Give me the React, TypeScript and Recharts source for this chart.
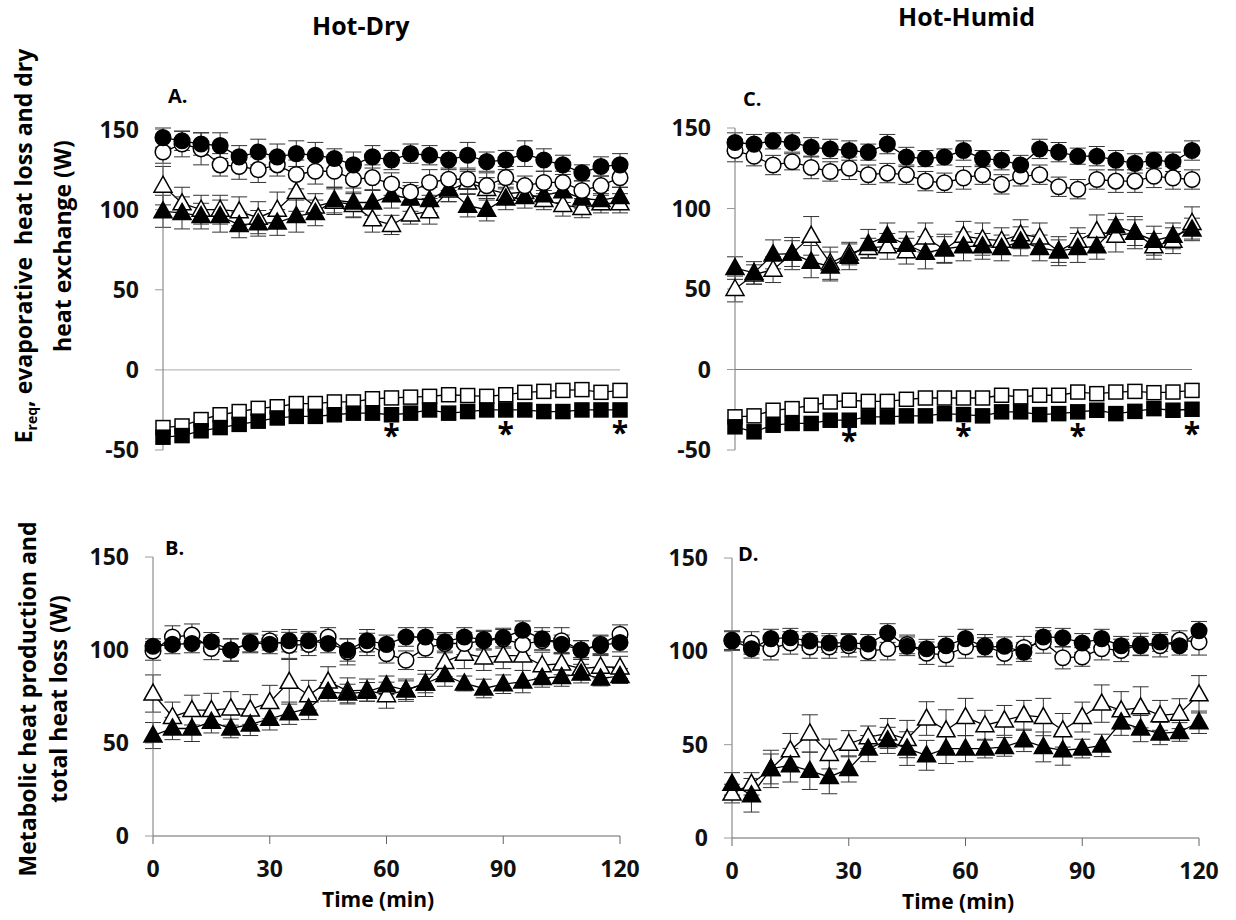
import React from 'react'
import { ComposedChart, Line, XAxis, YAxis, ErrorBar, ReferenceLine, Scatter } from 'recharts'

// time points, minutes
const times = [0, 5, 10, 15, 20, 25, 30, 35, 40, 45, 50, 55, 60, 65, 70, 75, 80, 85, 90, 95, 100, 105, 110, 115, 120]
const xTicks = [0, 30, 60, 90, 120]
const topTicks = [-50, 0, 50, 100, 150]
const bottomTicks = [0, 50, 100, 150]

// A. Hot-Dry, upper
const aFilledCircle = [145, 143, 141, 140, 133, 136, 133, 135, 134, 132, 128, 133, 131, 135, 134, 131, 134, 130, 131, 135, 131, 128, 123, 127, 128]
const aFilledCircleErr = [6, 6, 7, 8, 7, 8, 8, 8, 8, 6, 8, 7, 6, 6, 6, 6, 8, 6, 6, 8, 7, 6, 5, 6, 7]
const aOpenCircle = [136, 141, 138, 128, 127, 125, 128, 122, 124, 124, 119, 120, 116, 111, 117, 119, 119, 115, 120, 115, 117, 117, 112, 115, 120]
const aOpenCircleErr = [7, 8, 10, 7, 8, 8, 7, 9, 8, 10, 9, 8, 7, 6, 8, 7, 6, 8, 7, 6, 7, 7, 6, 6, 6]
const aOpenTri = [115, 104, 100, 100, 99, 95, 100, 111, 102, 105, 103, 94, 90.5, 97, 99, 112, 117, 113, 110, 111, 106, 103, 101, 104, 104]
const aOpenTriErr = [12, 10, 9, 9, 9, 10, 11, 12, 8, 8, 8, 8, 6, 6, 8, 7, 7, 7, 6, 6, 6, 7, 6, 6, 6]
const aFilledTri = [99, 98, 96, 96, 90.5, 91.5, 92, 96, 98, 106, 104.5, 104.5, 109, 107, 106, 113, 102.5, 100, 107, 108, 109, 111.5, 107, 106, 108]
const aFilledTriErr = [10, 10, 8, 10, 8, 8, 8, 10, 8, 8, 9, 8, 8, 8, 8, 8, 7, 7, 7, 7, 7, 7, 6, 6, 6]
const aOpenSq = [-36, -35, -31, -28, -26, -24, -23, -21, -21, -20, -20, -18, -17.5, -17, -16.5, -15.5, -16, -16.5, -15.5, -14, -13.4, -12.8, -12.3, -14, -12.8]
const aFilledSq = [-42, -41, -38, -36, -34, -32, -30, -29, -29, -28, -27, -27, -28, -27, -25, -27, -26, -25, -25, -25, -26, -26, -25, -25, -25]
const aStarT = [60, 90, 120]
const aStarY = [-38, -37, -36]

// B. Hot-Dry, lower
const bFilledCircle = [102, 103, 103.5, 104.4, 100, 104, 103, 105, 105, 103.5, 100, 105, 103, 107, 107, 104.4, 107, 105.6, 106.7, 110.6, 106, 103, 100, 102.5, 104]
const bFilledCircleErr = [4, 5, 5, 5, 6, 5, 5, 6, 5, 5, 6, 6, 5, 5, 5, 5, 5, 5, 5, 5, 6, 5, 5, 5, 5]
const bOpenCircle = [99.5, 107, 108, 100.8, 100, 103.5, 105, 102.5, 103, 107, 99, 103, 98, 94.5, 101, 103.5, 103.5, 105, 106, 103, 105, 105, 100, 103, 108.5]
const bOpenCircleErr = [5, 6, 6, 6, 6, 5, 5, 7, 6, 5, 7, 6, 5, 5, 5, 5, 6, 5, 5, 6, 5, 7, 5, 5, 5]
const bOpenTri = [76.6, 64, 67.7, 67.7, 68.6, 68, 72, 82.9, 75.7, 83, 78, 78.4, 75.7, 78.4, 82, 93.6, 98, 96, 97, 97, 91.8, 92.7, 90, 91, 90.6]
const bOpenTriErr = [10, 8, 8, 9, 9, 8, 9, 12, 8, 8, 7, 6, 7, 6, 7, 8, 8, 7, 7, 8, 7, 6, 6, 6, 6]
const bFilledTri = [54, 57.8, 57.8, 61.4, 57.8, 60, 63, 66, 68.6, 77.5, 76.6, 77.5, 81, 78.4, 82, 86.5, 82, 79.3, 81.6, 83, 85, 85.5, 87.3, 84.7, 86]
const bFilledTriErr = [7, 6, 7, 6, 5, 6, 6, 6, 6, 5, 5, 5, 5, 5, 5, 6, 4, 5, 5, 6, 5, 5, 5, 4, 4]

// C. Hot-Humid, upper
const cFilledCircle = [141, 140, 142, 141, 138, 137, 136, 135, 140, 132, 131, 132, 136, 131, 130, 127, 137, 135, 132.5, 132.5, 130, 128, 130, 129, 136]
const cFilledCircleErr = [6, 6, 5, 6, 6, 6, 6, 5, 6, 6, 5, 5, 6, 5, 6, 6, 6, 6, 5, 6, 6, 6, 5, 6, 6]
const cOpenCircle = [136, 132.5, 127, 129, 125.5, 123, 125, 121, 122, 121, 117, 116, 119, 121, 115, 120, 121, 113.5, 112, 118, 117, 117, 120, 119, 118]
const cOpenCircleErr = [7, 6, 6, 5, 7, 6, 7, 6, 6, 6, 6, 6, 7, 6, 6, 6, 6, 6, 6, 6, 7, 7, 7, 7, 6]
const cOpenTri = [50, 59, 62, 72, 83, 66, 72, 75.5, 76.5, 73.5, 82, 74.5, 83, 81, 80, 84, 82, 73.5, 80, 86, 83, 85, 76.5, 80, 91]
const cOpenTriErr = [8, 6, 8, 8, 12, 10, 7, 6, 8, 8, 9, 8, 9, 10, 8, 9, 9, 7, 8, 10, 10, 10, 8, 8, 10]
const cFilledTri = [63, 60, 71.5, 72, 67, 64, 70, 78, 83, 77.5, 72.5, 75, 76.5, 76.5, 75.5, 79.6, 75.5, 73.5, 75.5, 76.5, 89, 85, 80, 83, 87]
const cFilledTriErr = [7, 7, 9, 10, 10, 9, 8, 9, 8, 8, 10, 9, 9, 8, 8, 9, 8, 9, 9, 8, 8, 8, 9, 8, 7]
const cOpenSq = [-29.4, -28.8, -25.3, -24.3, -22.2, -20.2, -19.1, -19.8, -19.8, -18.5, -17.7, -17.7, -17.7, -17.7, -16, -17, -16, -16, -14, -15, -14, -13.6, -14.4, -14, -13]
const cFilledSq = [-35.6, -38.7, -34.6, -33.5, -33.5, -31.5, -31.5, -29.4, -29.4, -28.8, -28.8, -27.4, -28, -28.8, -26.3, -26.3, -28, -27.4, -26.3, -25.3, -27.4, -26, -24.3, -25.3, -24.7]
const cStarT = [30, 60, 90, 120]
const cStarY = [-41.5, -38, -38, -37]

// D. Hot-Humid, lower
const dFilledCircle = [106, 101.4, 106.8, 107.3, 105.5, 104.5, 104.5, 104, 109.8, 102.7, 101.4, 103, 106.8, 102.3, 102.7, 99.6, 107.7, 107.3, 104.5, 106.8, 103, 103, 105, 103, 111]
const dFilledCircleErr = [5, 5, 5, 5, 5, 5, 5, 5, 5, 5, 5, 5, 5, 5, 5, 5, 5, 5, 5, 5, 5, 5, 5, 5, 5]
const dOpenCircle = [105.5, 104.5, 101.4, 104.5, 102.3, 102.3, 103, 100, 101.4, 103.7, 99, 98, 102.3, 103, 98.8, 102, 105, 96.6, 97, 101.4, 100.5, 103.7, 103, 106, 105]
const dOpenCircleErr = [5, 6, 6, 6, 6, 6, 6, 5, 6, 5, 6, 6, 6, 6, 6, 6, 6, 6, 5, 6, 6, 6, 6, 5, 7]
const dOpenTri = [23.8, 29, 37, 47, 56, 45, 50.5, 54, 56, 53, 64, 57.7, 64.8, 60.4, 63, 65.7, 64.8, 57.7, 64.8, 72, 68.4, 70, 65.7, 66.6, 77]
const dOpenTriErr = [5, 6, 8, 9, 10, 8, 7, 6, 8, 10, 9, 11, 10, 8, 8, 8, 10, 9, 8, 10, 10, 11, 8, 8, 10]
const dFilledTri = [29, 22.9, 37, 39, 36, 32.7, 37, 47.9, 52.3, 47.9, 44.3, 47.9, 47.9, 47.9, 48.8, 52.3, 48.8, 47, 47.9, 49.6, 62, 58.6, 56, 56.8, 62]
const dFilledTriErr = [6, 9, 10, 9, 10, 9, 7, 7, 7, 9, 8, 8, 7, 5, 5, 6, 8, 8, 5, 6, 7, 7, 6, 5, 6]

const FONT = '"Open Sans", "Noto Sans", sans-serif'

type Kind = 'circle' | 'tri' | 'square'

function Marker({ cx, cy, kind, filled }: { cx: number; cy: number; kind: Kind; filled: boolean }) {
  if (cx == null || cy == null) return null
  const fill = filled ? '#000' : '#fff'
  if (kind === 'circle') return <circle cx={cx} cy={cy} r={7.8} fill={fill} stroke="#000" strokeWidth={1.5} />
  if (kind === 'square') return <rect x={cx - 7} y={cy - 7} width={14} height={14} fill={fill} stroke="#000" strokeWidth={1.5} />
  return (
    <polygon
      points={`${cx},${cy - 9.5} ${cx + 9},${cy + 6.5} ${cx - 9},${cy + 6.5}`}
      fill={fill}
      stroke="#000"
      strokeWidth={1.5}
    />
  )
}

type Series = { key: string; vals: number[]; err?: number[]; kind: Kind; filled: boolean }

function Panel({
  left, top, w, h, domain, ticks, showX, series, starT, starY, zeroStroke,
}: {
  left: number; top: number; w: number; h: number; domain: [number, number]; ticks: number[]
  showX: boolean; series: Series[]; starT?: number[]; starY?: number[]; zeroStroke?: string
}) {
  const YW = 84
  const MT = 20
  const XH = 50
  const rows = times.map((t, i) => {
    const r: any = { t }
    series.forEach(s => {
      r[s.key] = s.vals[i]
      if (s.err) r[s.key + 'E'] = s.err[i]
    })
    return r
  })
  const stars = (starT || []).map((t, i) => ({ t, y: starY ? starY[i] : 0 }))
  const tickStyle = { fill: '#111', fontSize: 23, fontWeight: 700, fontFamily: FONT }
  return (
    <div style={{ position: 'absolute', left: left - YW, top: top - MT }}>
      <ComposedChart
        width={YW + w + 30}
        height={MT + h + (showX ? XH : 16)}
        data={rows}
        margin={{ top: MT, right: 30, left: 0, bottom: showX ? 0 : 16 }}
      >
        <XAxis
          type="number"
          dataKey="t"
          domain={[0, 120]}
          ticks={xTicks}
          hide={!showX}
          height={XH}
          tickSize={8}
          tickMargin={17}
          axisLine={{ stroke: '#666' }}
          tickLine={{ stroke: '#666' }}
          tick={tickStyle}
        />
        <YAxis
          type="number"
          domain={domain}
          ticks={ticks}
          width={YW}
          tickSize={8}
          tickMargin={16}
          axisLine={{ stroke: '#777' }}
          tickLine={{ stroke: '#999' }}
          tick={tickStyle}
        />
        {zeroStroke && <ReferenceLine y={0} stroke={zeroStroke} strokeWidth={1.2} />}
        {series.map(s => (
          <Line
            key={s.key}
            dataKey={s.key}
            type="linear"
            stroke="#000"
            strokeWidth={1.3}
            isAnimationActive={false}
            dot={(p: any) => <Marker key={s.key + p.index} cx={p.cx} cy={p.cy} kind={s.kind} filled={s.filled} />}
            activeDot={false}
          >
            {s.err && (
              <ErrorBar dataKey={s.key + 'E'} width={8} stroke="#333" strokeWidth={1} direction="y" isAnimationActive={false} />
            )}
          </Line>
        ))}
        {stars.length > 0 && (
          <Scatter
            data={stars}
            dataKey="y"
            isAnimationActive={false}
            shape={(p: any) => (
              <text x={p.cx} y={p.cy + 15} textAnchor="middle" fontSize={30} fontWeight={700} fontFamily={FONT} fill="#000">*</text>
            )}
          />
        )}
      </ComposedChart>
    </div>
  )
}

const label: React.CSSProperties = { position: 'absolute', fontFamily: FONT, fontWeight: 700, color: '#000', whiteSpace: 'nowrap', lineHeight: 1 }

function RotTitle({ cx, cy, lines }: { cx: number; cy: number; lines: React.ReactNode[] }) {
  return (
    <div
      style={{
        ...label,
        left: cx,
        top: cy,
        fontSize: 23,
        lineHeight: '31px',
        textAlign: 'center',
        transform: 'translate(-50%, -50%) rotate(-90deg)',
      }}
    >
      {lines.map((l, i) => <div key={i}>{l}</div>)}
    </div>
  )
}

export default function App() {
  return (
    <div style={{ position: 'absolute', left: 0, top: 0, width: 1236, height: 920, background: '#fff', overflow: 'hidden' }}>
      <div style={{ ...label, left: 312, top: 13, fontSize: 25 }}>Hot-Dry</div>
      <div style={{ ...label, left: 898, top: 4, fontSize: 25 }}>Hot-Humid</div>

      <RotTitle
        cx={43}
        cy={246}
        lines={[
          <span key="a">E<span style={{ fontSize: 14, verticalAlign: -5 }}>req</span>, evaporative&nbsp; heat loss and dry</span>,
          'heat exchange (W)',
        ]}
      />
      <RotTitle cx={43} cy={699} lines={['Metabolic heat production and', 'total heat loss (W)']} />

      <Panel
        left={163} top={128} w={457} h={322} domain={[-50, 150]} ticks={topTicks} showX={false} zeroStroke="#bbb"
        starT={aStarT} starY={aStarY}
        series={[
          { key: 'os', vals: aOpenSq, kind: 'square', filled: false },
          { key: 'fs', vals: aFilledSq, kind: 'square', filled: true },
          { key: 'ot', vals: aOpenTri, err: aOpenTriErr, kind: 'tri', filled: false },
          { key: 'ft', vals: aFilledTri, err: aFilledTriErr, kind: 'tri', filled: true },
          { key: 'oc', vals: aOpenCircle, err: aOpenCircleErr, kind: 'circle', filled: false },
          { key: 'fc', vals: aFilledCircle, err: aFilledCircleErr, kind: 'circle', filled: true },
        ]}
      />
      <Panel
        left={735} top={128} w={457} h={322} domain={[-50, 150]} ticks={topTicks} showX={false} zeroStroke="#777"
        starT={cStarT} starY={cStarY}
        series={[
          { key: 'os', vals: cOpenSq, kind: 'square', filled: false },
          { key: 'fs', vals: cFilledSq, kind: 'square', filled: true },
          { key: 'ot', vals: cOpenTri, err: cOpenTriErr, kind: 'tri', filled: false },
          { key: 'ft', vals: cFilledTri, err: cFilledTriErr, kind: 'tri', filled: true },
          { key: 'oc', vals: cOpenCircle, err: cOpenCircleErr, kind: 'circle', filled: false },
          { key: 'fc', vals: cFilledCircle, err: cFilledCircleErr, kind: 'circle', filled: true },
        ]}
      />
      <Panel
        left={153} top={557} w={467} h={279} domain={[0, 150]} ticks={bottomTicks} showX={true}
        series={[
          { key: 'ot', vals: bOpenTri, err: bOpenTriErr, kind: 'tri', filled: false },
          { key: 'ft', vals: bFilledTri, err: bFilledTriErr, kind: 'tri', filled: true },
          { key: 'oc', vals: bOpenCircle, err: bOpenCircleErr, kind: 'circle', filled: false },
          { key: 'fc', vals: bFilledCircle, err: bFilledCircleErr, kind: 'circle', filled: true },
        ]}
      />
      <Panel
        left={732} top={558} w={467} h={280} domain={[0, 150]} ticks={bottomTicks} showX={true}
        series={[
          { key: 'ot', vals: dOpenTri, err: dOpenTriErr, kind: 'tri', filled: false },
          { key: 'ft', vals: dFilledTri, err: dFilledTriErr, kind: 'tri', filled: true },
          { key: 'oc', vals: dOpenCircle, err: dOpenCircleErr, kind: 'circle', filled: false },
          { key: 'fc', vals: dFilledCircle, err: dFilledCircleErr, kind: 'circle', filled: true },
        ]}
      />

      <div style={{ ...label, left: 168, top: 86, fontSize: 20 }}>A.</div>
      <div style={{ ...label, left: 743, top: 89, fontSize: 20 }}>C.</div>
      <div style={{ ...label, left: 165, top: 538, fontSize: 20 }}>B.</div>
      <div style={{ ...label, left: 738, top: 544, fontSize: 20 }}>D.</div>

      <div style={{ ...label, left: 322, top: 889, fontSize: 21 }}>Time (min)</div>
      <div style={{ ...label, left: 902, top: 891, fontSize: 21 }}>Time (min)</div>
    </div>
  )
}
